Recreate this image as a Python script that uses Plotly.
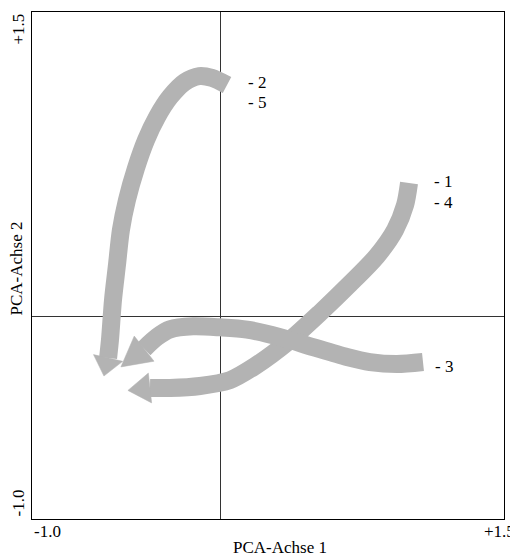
import math
import plotly.graph_objects as go

# ---- data (PCA scores, path of each trajectory) ----
path_25_x = [0.033, -0.047, -0.115, -0.190, -0.269, -0.338, -0.396, -0.449, -0.497, -0.529, -0.550, -0.571, -0.587, -0.597]
path_25_y = [1.140, 1.175, 1.184, 1.155, 1.081, 0.982, 0.869, 0.731, 0.573, 0.425, 0.252, 0.080, -0.117, -0.206]
tip_25 = (-0.619, -0.295)

path_14_x = [0.997, 0.976, 0.923, 0.827, 0.684, 0.525, 0.361, 0.181, 0.049, -0.110, -0.269, -0.375]
path_14_y = [0.657, 0.548, 0.425, 0.297, 0.159, 0.016, -0.122, -0.246, -0.315, -0.344, -0.354, -0.354]
tip_14 = (-0.492, -0.366)

path_3_x = [1.071, 0.933, 0.790, 0.668, 0.488, 0.314, 0.139, -0.004, -0.147, -0.269, -0.338, -0.406]
path_3_y = [-0.226, -0.236, -0.226, -0.201, -0.152, -0.103, -0.066, -0.055, -0.050, -0.065, -0.103, -0.160]
tip_3 = (-0.529, -0.250)

x_tick_labels = ["-1.0", "+1.5"]
y_tick_labels = ["-1.0", "+1.5"]
axis_range = [-1.0, 1.5]
x_title = "PCA-Achse 1"
y_title = "PCA-Achse 2"

GREY = "#b3b3b3"
FONT = "Liberation Serif, Times New Roman, serif"
# page body has an 8px margin; figure sized to fit the 518x556 window
W, H = 510, 548
ML, MR, MT, MB = 24, 14, 4, 37
KX = (W - ML - MR) / (axis_range[1] - axis_range[0])
KY = (H - MT - MB) / (axis_range[1] - axis_range[0])

fig = go.Figure()


def add_arrow(px, py, tip, half_w):
    fig.add_trace(go.Scatter(
        x=px, y=py, mode="lines",
        line=dict(color=GREY, width=18, shape="spline", smoothing=0.8),
        hoverinfo="skip", showlegend=False))
    ex, ey = px[-1], py[-1]
    dx, dy = (tip[0] - ex) * KX, (tip[1] - ey) * KY
    L = math.hypot(dx, dy)
    ux, uy = dx / L, dy / L
    nx, ny = -uy, ux
    hx = [ex + nx * half_w / KX, tip[0], ex - nx * half_w / KX, ex + nx * half_w / KX]
    hy = [ey + ny * half_w / KY, tip[1], ey - ny * half_w / KY, ey + ny * half_w / KY]
    fig.add_trace(go.Scatter(
        x=hx, y=hy, mode="lines", fill="toself", fillcolor=GREY,
        line=dict(color=GREY, width=0.5),
        hoverinfo="skip", showlegend=False))


add_arrow(path_25_x, path_25_y, tip_25, 15)
add_arrow(path_14_x, path_14_y, tip_14, 15)
add_arrow(path_3_x, path_3_y, tip_3, 16)

ann = []
f17 = dict(family=FONT, size=17, color="black")
# x tick labels
ann.append(dict(text=x_tick_labels[0], xref="x", yref="paper", x=axis_range[0], y=0,
                xanchor="left", yanchor="top", yshift=-1, showarrow=False, font=f17))
ann.append(dict(text=x_tick_labels[1], xref="paper", yref="paper", x=1, y=0,
                xanchor="right", yanchor="top", xshift=MR - 1, yshift=-1,
                showarrow=False, font=f17))
# y tick labels
ann.append(dict(text=y_tick_labels[0], xref="paper", yref="y", x=0, y=axis_range[0],
                xanchor="center", yanchor="bottom", xshift=-14, showarrow=False,
                textangle=-90, font=f17))
ann.append(dict(text=y_tick_labels[1], xref="paper", yref="y", x=0, y=axis_range[1],
                xanchor="center", yanchor="top", xshift=-14, showarrow=False,
                textangle=-90, font=f17))
# axis titles
ann.append(dict(text=x_title, xref="paper", yref="paper", x=(272 - ML) / (W - ML - MR), y=0,
                xanchor="center", yanchor="top", yshift=-17, showarrow=False, font=f17))
ann.append(dict(text=y_title, xref="paper", yref="paper", x=0, y=0.494,
                xanchor="center", yanchor="middle", xshift=-15, showarrow=False,
                textangle=-90, font=f17))
# trajectory labels
for txt, lx, ly in [("- 2", 0.133, 1.150), ("- 5", 0.133, 1.056),
                    ("- 1", 1.119, 0.662), ("- 4", 1.119, 0.563),
                    ("- 3", 1.124, -0.250)]:
    ann.append(dict(text=txt, xref="x", yref="y", x=lx, y=ly, xanchor="left",
                    yanchor="middle", showarrow=False, font=f17))

axis_common = dict(range=axis_range, showgrid=False, showticklabels=False, ticks="",
                   zeroline=True, zerolinecolor="#333333", zerolinewidth=1,
                   showline=True, mirror=True, linecolor="black", linewidth=1,
                   fixedrange=True)

fig.update_layout(
    width=W, height=H, autosize=False,
    margin=dict(l=ML, r=MR, t=MT, b=MB),
    plot_bgcolor="white", paper_bgcolor="white",
    xaxis=axis_common, yaxis=axis_common,
    annotations=ann,
    font=dict(family=FONT),
)

fig.write_html("out.html")
